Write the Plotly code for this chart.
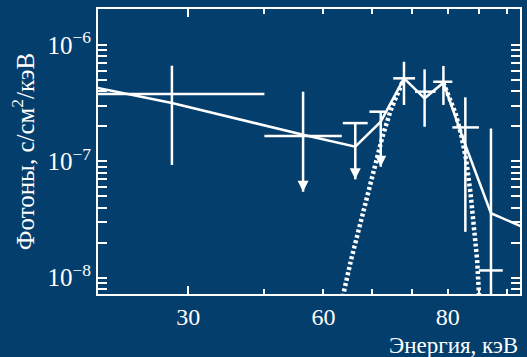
import numpy as np
import plotly.graph_objects as go

# Measured spectrum: bin centres, bin edges (keV) and photon flux with error ends
energy = [28.2, 46.3, 56.4, 62.1, 67.8, 73.3, 78.7, 85.5, 94.2]
e_low = [20.0, 40.0, 53.8, 59.5, 65.1, 70.7, 75.7, 81.4, 90.0]
e_high = [40.0, 53.6, 59.1, 63.1, 70.7, 76.4, 81.4, 90.0, 98.5]
flux = [3.79e-7, 1.65e-7, 2.13e-7, 2.67e-7, 5.17e-7, 3.97e-7, 4.83e-7, 1.955e-7, 1.15e-8]
flux_top = [6.64e-7, 3.97e-7, 2.13e-7, 2.67e-7, 7.18e-7, 6.18e-7, 6.6e-7, 3.55e-7, 1.91e-7]
flux_bottom = [9.3e-8, 5.47e-8, 6.99e-8, 8.98e-8, 3.05e-7, 1.98e-7, 3.05e-7, 2.47e-8, 1e-9]
upper_limit = [False, True, True, True, False, False, False, False, False]

# Total model evaluated at the bin centres
model_energy = [20.0, 28.2, 46.3, 56.4, 62.1, 67.8, 73.3, 78.7, 85.5, 94.2, 107.4]
model_flux = [4.57e-7, 3.17e-7, 1.69e-7, 1.334e-7, 2.19e-7, 5.17e-7, 3.48e-7,
              4.74e-7, 1.38e-7, 3.57e-8, 2.65e-8]

# Line component (dotted), rising and falling wings
line_energy_rise = [53.5, 53.95, 55.5, 57.25, 59.06, 60.95, 62.5, 64.5, 66.1, 67.8]
line_flux_rise = [5.5e-9, 7.31e-9, 1.414e-8, 2.735e-8, 5.30e-8, 1.025e-7, 1.626e-7,
                  2.76e-7, 3.84e-7, 5.17e-7]
line_energy_fall = [78.66, 80.35, 82.4, 84.3, 85.77, 87.2, 88.3, 89.4, 90.0, 90.3]
line_flux_fall = [4.74e-7, 3.59e-7, 2.585e-7, 1.626e-7, 1.025e-7, 5.30e-8, 2.735e-8,
                  1.414e-8, 7.31e-9, 5.5e-9]

x_ticks = [30, 50, 80]
x_tick_text = ["30", "60", "80"]
x_minor = [40, 60, 70, 90, 100]
y_ticks = [1e-8, 1e-7, 1e-6]
y_tick_text = ["10<sup>−8</sup>", "10<sup>−7</sup>", "10<sup>−6</sup>"]
y_minor = [m * 10.0 ** d for d in (-9, -8, -7) for m in range(2, 10)]

BG = "#043e6c"
FG = "white"
FONT = "Liberation Serif"

energy_a = np.array(energy)
flux_a = np.array(flux)

fig = go.Figure()

# Data points with bin widths and flux errors
fig.add_trace(go.Scatter(
    x=energy, y=flux, mode="markers",
    marker=dict(size=1, color="rgba(0,0,0,0)"),
    error_x=dict(type="data", symmetric=False,
                 array=list(np.array(e_high) - energy_a),
                 arrayminus=list(energy_a - np.array(e_low)),
                 width=0, thickness=2.5, color=FG),
    error_y=dict(type="data", symmetric=False,
                 array=list(np.array(flux_top) - flux_a),
                 arrayminus=list(flux_a - np.array(flux_bottom)),
                 width=0, thickness=2.5, color=FG),
    showlegend=False, hoverinfo="skip",
))

# Arrowheads for upper limits
ul_x = [e for e, u in zip(energy, upper_limit) if u]
ul_y = [b for b, u in zip(flux_bottom, upper_limit) if u]
fig.add_trace(go.Scatter(
    x=ul_x, y=ul_y, mode="markers",
    marker=dict(symbol="arrow-down", size=11, color=FG, line=dict(width=0)),
    showlegend=False, hoverinfo="skip",
))

# Model
fig.add_trace(go.Scatter(
    x=model_energy, y=model_flux, mode="lines",
    line=dict(color=FG, width=2.5),
    showlegend=False, hoverinfo="skip",
))

# Line component
fig.add_trace(go.Scatter(
    x=line_energy_rise + [None] + line_energy_fall,
    y=line_flux_rise + [None] + line_flux_fall,
    mode="lines", connectgaps=False,
    line=dict(color=FG, width=4.5, dash="3px,2.5px"),
    showlegend=False, hoverinfo="skip", xaxis="x2",
))

x_range = [1.3289, 2.0217]
y_range = [-8.142, -5.69]

fig.update_layout(
    width=527, height=357,
    margin=dict(l=98, r=5, t=9, b=63),
    paper_bgcolor=BG, plot_bgcolor=BG,
    font=dict(family=FONT, color=FG, size=24),
    xaxis=dict(
        type="log", range=x_range,
        tickmode="array", tickvals=x_ticks, ticktext=x_tick_text,
        ticks="inside", ticklen=5, tickwidth=2, tickcolor=FG,
        showline=True, linecolor=FG, linewidth=2, mirror="allticks",
        showgrid=False, zeroline=False,
        tickfont=dict(family=FONT, size=24, color=FG),
        minor=dict(tickmode="array", tickvals=x_minor, ticks="inside",
                   ticklen=5, tickwidth=2, tickcolor=FG, showgrid=False),
    ),
    xaxis2=dict(
        type="log", range=x_range, overlaying="x", anchor="y",
        tickmode="array", tickvals=[30], ticks="inside", ticklen=8,
        tickwidth=2, tickcolor=FG, showticklabels=False,
        showline=False, mirror="allticks", showgrid=False, zeroline=False,
    ),
    yaxis=dict(
        type="log", range=y_range,
        tickmode="array", tickvals=y_ticks, ticktext=y_tick_text,
        ticks="inside", ticklen=9, tickwidth=2, tickcolor=FG,
        showline=True, linecolor=FG, linewidth=2, mirror="allticks",
        showgrid=False, zeroline=False,
        tickfont=dict(family=FONT, size=25, color=FG),
        minor=dict(tickmode="array", tickvals=y_minor, ticks="inside",
                   ticklen=6, tickwidth=2, tickcolor=FG, showgrid=False),
        title=dict(text="Фотоны, с/см<sup>2</sup>/кэВ",
                   font=dict(family=FONT, size=25, color=FG), standoff=6),
    ),
    annotations=[dict(
        text="Энергия, кэВ", xref="paper", yref="paper",
        x=1.0, y=-0.179, xanchor="right", yanchor="middle",
        showarrow=False, font=dict(family=FONT, size=23, color=FG),
    )],
)

fig.write_html("out.html")
